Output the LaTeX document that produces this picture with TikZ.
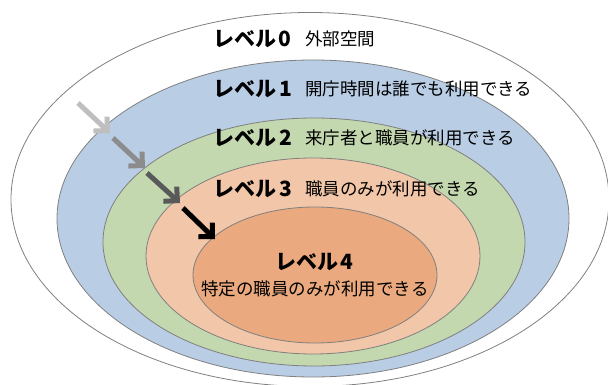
\documentclass[tikz,border=0pt]{standalone}
\usepackage{fontspec}
\newfontfamily\jp{Noto Sans CJK JP}
\usetikzlibrary{arrows.meta}
\definecolor{ringgray}{HTML}{808080}
\definecolor{lvA}{HTML}{B9CDE5}
\definecolor{lvB}{HTML}{C3D8AF}
\definecolor{lvC}{HTML}{F2C6A8}
\definecolor{lvD}{HTML}{EAA97E}
\definecolor{arA}{HTML}{BFBFBF}
\definecolor{arB}{HTML}{8C8C8C}
\definecolor{arC}{HTML}{595959}
\definecolor{arD}{HTML}{000000}
\begin{document}
\begin{tikzpicture}[x=1pt,y=-1pt,
  ring/.style={draw=ringgray, line width=0.8pt},
  lvlabel/.style={anchor=west, inner sep=0pt, font=\jp\bfseries\fontsize{21}{24}\selectfont},
  lvdesc/.style={anchor=west, inner sep=0pt, font=\jp\fontsize{17.5}{20}\selectfont},
  lvcenter/.style={inner sep=0pt},
  arr/.style={line width=5pt, line join=miter, -{Straight Barb[angle=90:14pt, line join=miter]}}
]
\clip (0,0) rectangle (608,385);
\fill[white] (0,0) rectangle (608,385);
\draw[ring, fill=white] (310,199.5) ellipse [x radius=299pt, y radius=187pt];
\draw[ring, fill=lvA] (313,218.5) ellipse [x radius=256pt, y radius=158.5pt];
\draw[ring, fill=lvB] (314,242) ellipse [x radius=211pt, y radius=124pt];
\draw[ring, fill=lvC] (313,256) ellipse [x radius=167pt, y radius=98pt];
\draw[ring, fill=lvD] (315,275) ellipse [x radius=122pt, y radius=68pt];

\node[lvlabel] (l0) at (213,39) {レベル\hspace{2pt}0};
\node[lvdesc]  (d0) at (305,39) {外部空間};
\node[lvlabel] (l1) at (213,89) {レベル\hspace{3pt}1};
\node[lvdesc]  (d1) at (305,89) {開庁時間は誰でも利用できる};
\node[lvlabel] (l2) at (213,138) {レベル\hspace{3pt}2};
\node[lvdesc]  (d2) at (305,138) {来庁者と職員が利用できる};
\node[lvlabel] (l3) at (213,189) {レベル\hspace{3pt}3};
\node[lvdesc]  (d3) at (305,189) {職員のみが利用できる};
\node[lvcenter, font=\jp\bfseries\fontsize{21}{24}\selectfont] (l4) at (314,262) {レベル\hspace{2pt}4};
\node[lvcenter, font=\jp\fontsize{17.5}{20}\selectfont] (d4) at (315,289) {特定の職員のみが利用できる};

\coordinate (s1) at (78,103);  \coordinate (e1) at (110,133);
\coordinate (s2) at (113,138); \coordinate (e2) at (145,168);
\coordinate (s3) at (147,173); \coordinate (e3) at (180,203);
\coordinate (s4) at (183,208); \coordinate (e4) at (215,239);
\draw[arr, draw=arA] (s1) -- (e1);
\draw[arr, draw=arB] (s2) -- (e2);
\draw[arr, draw=arC] (s3) -- (e3);
\draw[arr, draw=arD] (s4) -- (e4);
\end{tikzpicture}
\end{document}
